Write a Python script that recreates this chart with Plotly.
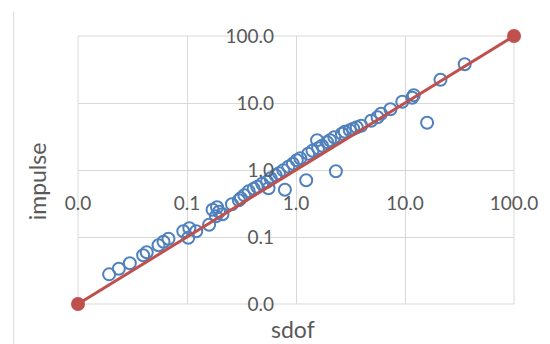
import plotly.graph_objects as go

# Scatter data (sdof vs impulse)
sdof = [0.0193, 0.0237, 0.0299, 0.0396, 0.0427, 0.0548, 0.0609, 0.0676, 0.0925, 0.1028,
        0.105, 0.1215, 0.1595, 0.1716, 0.1886, 0.1966, 0.2116, 0.1846, 0.2582, 0.299,
        0.3116, 0.3354, 0.368, 0.409, 0.440, 0.489, 0.543, 0.560, 0.584, 0.649,
        0.698, 0.791, 0.766, 0.851, 0.935, 1.017, 1.094, 1.240, 1.294, 1.416,
        1.595, 1.561, 1.734, 1.926, 2.05, 2.245, 2.323, 2.636, 2.806, 3.116,
        3.354, 3.608, 3.963, 4.89, 5.60, 6.03, 7.35, 9.45, 11.65, 12.03,
        15.95, 21.16, 35.3]
impulse = [0.0277, 0.0335, 0.0405, 0.0533, 0.0591, 0.0752, 0.0848, 0.094, 0.1217, 0.0973,
           0.1349, 0.1217, 0.152, 0.2547, 0.2775, 0.2377, 0.2182, 0.2037, 0.3076, 0.353,
           0.378, 0.419, 0.481, 0.524, 0.561, 0.622, 0.667, 0.533, 0.752, 0.834,
           0.893, 0.506, 0.99, 1.116, 1.238, 1.396, 1.495, 0.702, 1.745, 1.934,
           2.108, 2.775, 2.297, 2.591, 2.775, 3.076, 0.956, 3.47, 3.72, 3.913,
           4.12, 4.34, 4.57, 5.42, 6.12, 6.90, 8.05, 10.42, 11.96, 13.03,
           5.06, 22.2, 37.8]

# 1:1 reference line
ref_x = [0.01, 100]
ref_y = [0.01, 100]

tick_vals = [0.01, 0.1, 1, 10, 100]
tick_text = ["0.0", "0.1", "1.0", "10.0", "100.0"]

grid = "#d9d9d9"
txt = "#595959"
font_family = "Lato, Carlito, Calibri, sans-serif"

fig = go.Figure()
fig.add_trace(go.Scatter(
    x=sdof, y=impulse, mode="markers",
    marker=dict(symbol="circle-open", size=12, color="#4F81BD", line=dict(width=2, color="#4F81BD")),
    showlegend=False, hoverinfo="x+y"))
fig.add_trace(go.Scatter(
    x=ref_x, y=ref_y, mode="lines+markers",
    line=dict(color="#C0504D", width=3),
    marker=dict(symbol="circle", size=14, color="#C0504D"),
    cliponaxis=False, showlegend=False))

axis_common = dict(
    type="log", range=[-2, 2], tickvals=tick_vals, ticktext=tick_text,
    showgrid=True, gridcolor=grid, gridwidth=1, showline=False, zeroline=False,
    ticks="", tickfont=dict(family=font_family, size=19, color=txt),
    anchor="free", position=0.5,
)
fig.update_layout(
    width=550, height=344,
    margin=dict(l=78, r=33, t=36, b=40),
    paper_bgcolor="white", plot_bgcolor="white",
    xaxis=dict(**axis_common, ticklabelstandoff=20),
    yaxis=dict(**axis_common, ticklabelstandoff=22),
    shapes=[
        dict(type="rect", xref="paper", yref="paper", x0=0, x1=1, y0=0, y1=1,
             line=dict(color=grid, width=1), layer="below"),
        dict(type="line", xref="paper", yref="paper", x0=-0.1475, x1=-0.1475, y0=-0.16, y1=1.092,
             line=dict(color=grid, width=1)),
    ],
    annotations=[
        dict(text="sdof", xref="paper", yref="paper", x=(294 - 78) / 439, y=(304 - 329) / 268,
             showarrow=False, xanchor="center", yanchor="middle",
             font=dict(family=font_family, size=23, color=txt)),
        dict(text="impulse", xref="paper", yref="paper", x=(37 - 78) / 439, y=(304 - 181) / 268,
             showarrow=False, xanchor="center", yanchor="middle", textangle=-90,
             font=dict(family=font_family, size=23, color=txt)),
    ],
)

fig.write_html("out.html")
